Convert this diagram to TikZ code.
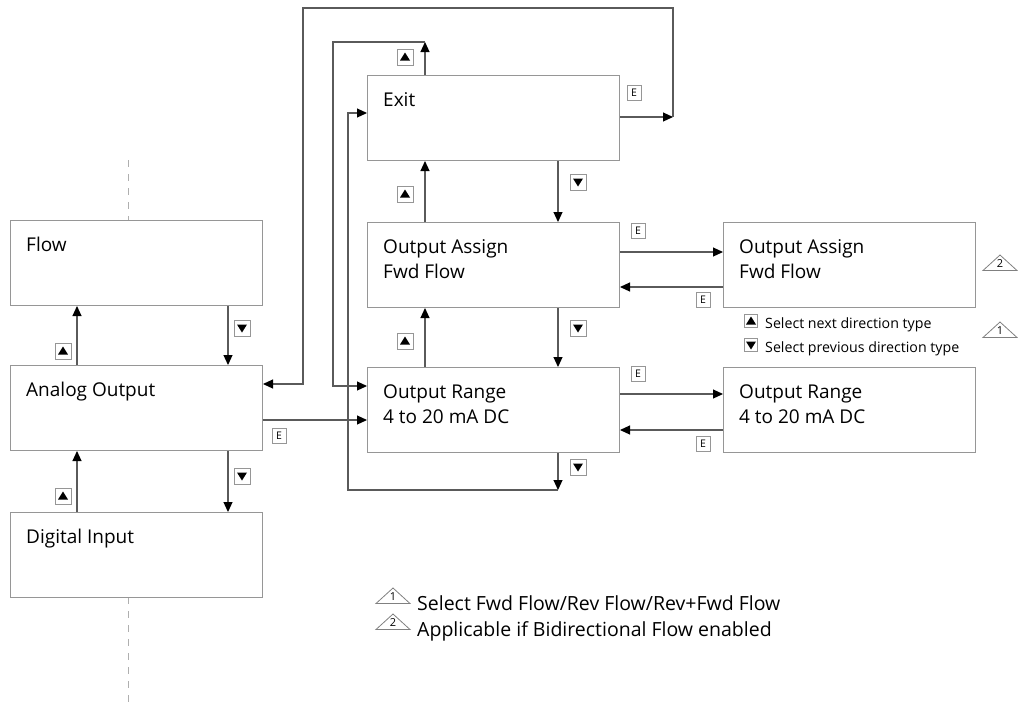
\documentclass[tikz,border=0pt]{standalone}
\usepackage{fontspec}
\setmainfont{Open Sans}
\usetikzlibrary{arrows.meta}
\definecolor{boxgray}{RGB}{150,150,150}
\definecolor{linegray}{RGB}{90,90,90}
\definecolor{dashgray}{RGB}{175,175,175}

\begin{document}
\begin{tikzpicture}[x=1pt,y=-1pt,
    >={Triangle[length=10pt,width=9pt,color=black]},
    panel/.style={draw=boxgray,line width=1pt,minimum width=252pt,minimum height=85pt,anchor=north west,inner sep=0pt},
    paneltext/.style={anchor=base west,inner sep=0pt,align=left,font=\fontsize{19}{25}\selectfont},
    conn/.style={draw=linegray,line width=1.1pt},
    upkey/.style={draw=boxgray,line width=0.8pt,minimum width=16pt,minimum height=16pt,inner sep=0pt,
      path picture={\fill ([shift={(-5pt,-3.5pt)}]path picture bounding box.center) -- ++(10pt,0pt) -- ++(-5pt,8pt) -- cycle;}},
    downkey/.style={draw=boxgray,line width=0.8pt,minimum width=16pt,minimum height=16pt,inner sep=0pt,
      path picture={\fill ([shift={(-5pt,3.5pt)}]path picture bounding box.center) -- ++(10pt,0pt) -- ++(-5pt,-8pt) -- cycle;}},
    smallkey/.style={minimum width=13pt,minimum height=13pt},
    ekey/.style={draw=boxgray,line width=0.8pt,minimum width=14pt,minimum height=15pt,inner sep=0pt,font=\fontsize{10.5}{10}\selectfont},
    legendtext/.style={anchor=base west,inner sep=0pt,font=\fontsize{19.5}{25}\selectfont},
    smalltext/.style={anchor=base west,inner sep=0pt,font=\fontsize{14.2}{18}\selectfont},
    pics/notetri/.style={code={
      \draw[gray,line width=0.8pt] (-17pt,-7.5pt) -- (0pt,8pt) -- (17pt,-7.5pt) -- cycle;
      \node[inner sep=0pt,font=\fontsize{11}{11}\selectfont] (-num) at (0pt,-1pt) {#1};}}
  ]
  \useasboundingbox (0,0) rectangle (1018,705);

  % menu column on the left
  \draw[dashgray,line width=1pt,dash pattern=on 7pt off 7pt] (128,160) -- (128,220);
  \draw[dashgray,line width=1pt,dash pattern=on 7pt off 7pt] (128,597) -- (128,704);
  \node[panel] (flow) at (10,220) {};
  \node[paneltext] (flow-t) at (26,251) {Flow};
  \node[panel] (analog) at (10,365) {};
  \node[paneltext] (analog-t) at (26,396) {Analog Output};
  \node[panel] (digital) at (10,512) {};
  \node[paneltext] (digital-t) at (26,543) {Digital Input};

  % sub menu
  \node[panel] (exit) at (367,75) {};
  \node[paneltext] (exit-t) at (383,106) {Exit};
  \node[panel] (assign) at (367,222) {};
  \node[paneltext] (assign-t) at (383,278) {Output Assign\\Fwd Flow};
  \node[panel] (range) at (367,367) {};
  \node[paneltext] (range-t) at (383,423) {Output Range\\4 to 20 mA DC};
  \node[panel] (assign-e) at (723,222) {};
  \node[paneltext] (assign-et) at (739,278) {Output Assign\\Fwd Flow};
  \node[panel] (range-e) at (723,367) {};
  \node[paneltext] (range-et) at (739,423) {Output Range\\4 to 20 mA DC};

  % up and down between the left boxes
  \draw[conn,->] ([xshift=-35pt]flow.south east) -- ([xshift=-35pt]analog.north east);
  \draw[conn,->] ([xshift=67pt]analog.north west) -- ([xshift=67pt]flow.south west);
  \draw[conn,->] ([xshift=-35pt]analog.south east) -- ([xshift=-35pt]digital.north east);
  \draw[conn,->] ([xshift=67pt]digital.north west) -- ([xshift=67pt]analog.south west);
  \node[upkey] (k1) at (63,351) {};
  \node[downkey] (k2) at (242,328) {};
  \node[upkey] (k3) at (63,496) {};
  \node[downkey] (k4) at (242,476) {};

  % into the sub menu
  \draw[conn,->] ([yshift=-55pt]analog.north east) -- ([yshift=-53pt]range.north west);
  \node[ekey] (e1) at (279,436) {E};

  % up and down in the sub menu
  \draw[conn,->] ([xshift=-62pt]exit.south east) -- ([xshift=-62pt]assign.north east);
  \draw[conn,->] ([xshift=58pt]assign.north west) -- ([xshift=58pt]exit.south west);
  \draw[conn,->] ([xshift=-62pt]assign.south east) -- ([xshift=-62pt]range.north east);
  \draw[conn,->] ([xshift=58pt]range.north west) -- ([xshift=58pt]assign.south west);
  \node[upkey] (k5) at (405,57) {};
  \node[downkey] (k6) at (578,182) {};
  \node[upkey] (k7) at (405,194) {};
  \node[downkey] (k8) at (578,328) {};
  \node[upkey] (k9) at (405,341) {};
  \node[downkey] (k10) at (578,467) {};

  % wrap around
  \draw[conn,->] ([xshift=58pt]exit.north west) -- ++(0,-33) coordinate (wrapup);
  \draw[conn,->] (wrapup) -- ++(-92,0) |- ([yshift=-19pt]range.north west);
  \draw[conn,->] ([xshift=-62pt]range.south east) -- ++(0,37) coordinate (wrapdown);
  \draw[conn,->] (wrapdown) -- ++(-210,0) |- ([yshift=-38pt]exit.north west);

  % leave the sub menu
  \draw[conn,->] ([yshift=-42pt]exit.north east) -- ++(53,0) coordinate (leave);
  \draw[conn,->] (leave) -- ++(0,-109) -- ++(-370,0) |- ([yshift=-19pt]analog.north east);
  \node[ekey] (e2) at (634,93) {E};

  % edit and back
  \draw[conn,->] ([yshift=-30pt]assign.north east) -- ([yshift=-30pt]assign-e.north west);
  \draw[conn,->] ([yshift=-65pt]assign-e.north west) -- ([yshift=-65pt]assign.north east);
  \draw[conn,->] ([yshift=-27pt]range.north east) -- ([yshift=-27pt]range-e.north west);
  \draw[conn,->] ([yshift=-63pt]range-e.north west) -- ([yshift=-63pt]range.north east);
  \node[ekey] (e3) at (638,231) {E};
  \node[ekey] (e4) at (703,300) {E};
  \node[ekey] (e5) at (638,374) {E};
  \node[ekey] (e6) at (703,444) {E};

  % notes
  \pic (tri2) at (1000,263) {notetri=2};
  \pic (tri1) at (1000,330) {notetri=1};
  \node[upkey,smallkey] (k11) at (751,321) {};
  \node[smalltext] (sel-next) at (765,328) {Select next direction type};
  \node[downkey,smallkey] (k12) at (751,345) {};
  \node[smalltext] (sel-prev) at (765,352) {Select previous direction type};

  \pic (leg1) at (393,596) {notetri=1};
  \node[legendtext] (leg1-t) at (417,610) {Select Fwd Flow/Rev Flow/Rev+Fwd Flow};
  \pic (leg2) at (393,622) {notetri=2};
  \node[legendtext] (leg2-t) at (417,636) {Applicable if Bidirectional Flow enabled};
\end{tikzpicture}
\end{document}
